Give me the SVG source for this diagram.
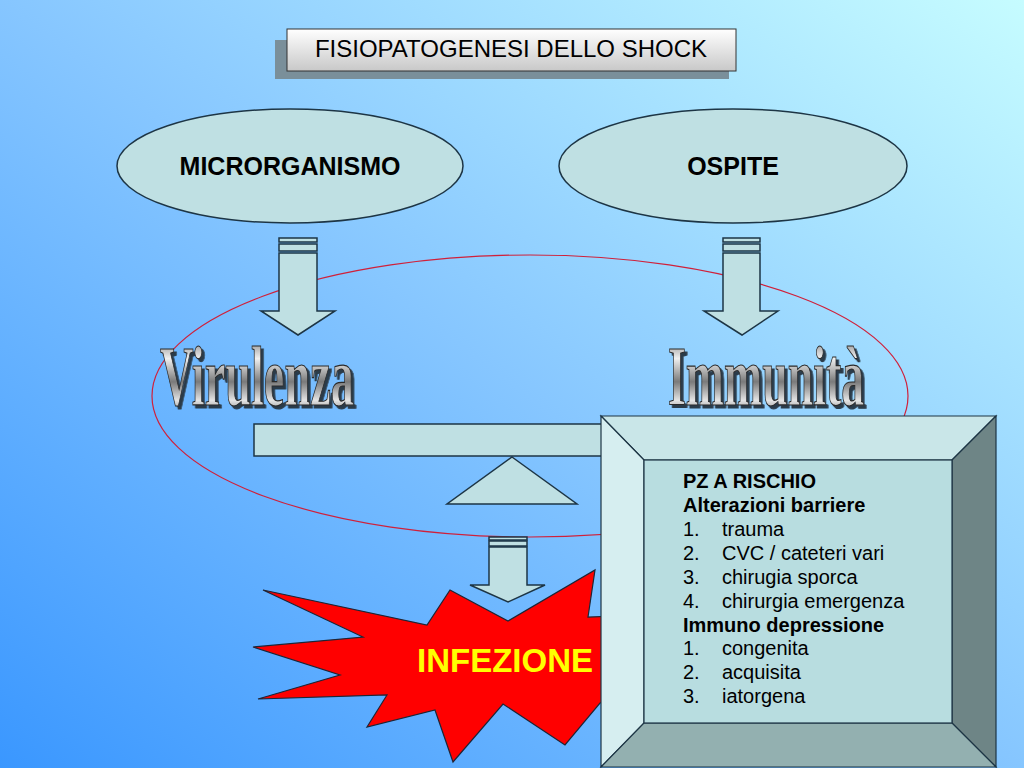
<svg xmlns="http://www.w3.org/2000/svg" width="1024" height="768" viewBox="0 0 1024 768">
<defs>
<linearGradient id="bg" x1="0" y1="1" x2="1" y2="0">
<stop offset="0" stop-color="#3a97ff"/>
<stop offset="0.5" stop-color="#86c6ff"/>
<stop offset="1" stop-color="#c6fcff"/>
</linearGradient>
<linearGradient id="title" x1="0" y1="0" x2="0" y2="1">
<stop offset="0" stop-color="#ffffff"/>
<stop offset="1" stop-color="#c8c8c8"/>
</linearGradient>
<linearGradient id="metal" x1="0" y1="0" x2="0" y2="1">
<stop offset="0" stop-color="#5a5a5a"/>
<stop offset="0.3" stop-color="#f0f0f0"/>
<stop offset="0.55" stop-color="#7a7a7a"/>
<stop offset="0.75" stop-color="#e4e4e4"/>
<stop offset="1" stop-color="#4a4a4a"/>
</linearGradient>
<filter id="extrude" x="-10%" y="-30%" width="130%" height="170%">
<feDropShadow dx="5" dy="3" stdDeviation="0.6" flood-color="#2a3a4a" flood-opacity="1"/>
</filter>
<style>
.shape{fill:#bfe0e3;stroke:#1d3545;stroke-width:1.5}
.lbl{font-family:"Liberation Sans",Arial,sans-serif;font-weight:bold;font-size:25px;fill:#000;text-anchor:middle}
.wa{font-family:"Liberation Serif","Times New Roman",serif;font-weight:bold;font-size:84px;fill:url(#metal);stroke:#2a2a2a;stroke-width:1.2;filter:url(#extrude)}
.bx{font-family:"Liberation Sans",Arial,sans-serif;font-size:20px;fill:#000}
.b{font-weight:bold}
</style>
</defs>
<rect width="1024" height="768" fill="url(#bg)"/>

<g id="title-box">
<rect x="275" y="40" width="454" height="39" fill="#7a8f9a"/>
<rect x="287" y="29" width="449" height="42" fill="url(#title)" stroke="#333" stroke-width="1"/>
<text x="511" y="57" font-family="Liberation Sans, Arial, sans-serif" font-size="24" text-anchor="middle" fill="#000">FISIOPATOGENESI DELLO SHOCK</text>
</g>

<g id="balance-ellipse">
<ellipse cx="530" cy="396" rx="378" ry="141" fill="none" stroke="#d0203a" stroke-width="1.2"/>
</g>

<g id="microrganismo">
<ellipse class="shape" cx="290" cy="166" rx="173" ry="57"/>
<text class="lbl" x="290" y="175">MICRORGANISMO</text>
</g>

<g id="ospite">
<ellipse class="shape" cx="733" cy="166" rx="174" ry="57"/>
<text class="lbl" x="733" y="175">OSPITE</text>
</g>

<g id="connectors">
<g id="arrow-left">
<rect class="shape" x="279" y="238" width="38" height="4"/>
<rect class="shape" x="279" y="244" width="38" height="7"/>
<polygon class="shape" points="279,253 317,253 317,311 335,311 298,335 261,311 279,311"/>
</g>
<g id="arrow-right">
<rect class="shape" x="723" y="238" width="37" height="4"/>
<rect class="shape" x="723" y="244" width="37" height="7"/>
<polygon class="shape" points="723,253 760,253 760,311 778,311 742,335 704,311 723,311"/>
</g>
</g>

<g id="virulenza">
<text class="wa" transform="translate(160,405) scale(0.552,1)" x="0" y="0">Virulenza</text>
</g>

<g id="immunita">
<text class="wa" transform="translate(668,405) scale(0.546,1)" x="0" y="0">Immunità</text>
</g>

<g id="beam">
<rect class="shape" x="254" y="424" width="420" height="32"/>
</g>

<g id="fulcrum">
<polygon class="shape" points="512,457 577,504 447,504"/>
</g>

<g id="arrow-bottom">
<rect class="shape" x="489" y="537" width="38" height="3"/>
<rect class="shape" x="489" y="541" width="38" height="5"/>
<polygon class="shape" points="489,547 527,547 527,585 545,585 508,602 470,585 489,585"/>
</g>

<g id="infezione">
<polygon fill="#ff0000" stroke="#1d2535" stroke-width="1.2" points="263,590 427,625 450,590 508,621 595,570 588,617 640,615 660,690 600,703 565,745 503,704 453,762 435,710 367,727 387,695 258,699 340,675 253,647 363,637"/>
<text x="505" y="672" font-family="Liberation Sans, Arial, sans-serif" font-weight="bold" font-size="33" fill="#ffff00" text-anchor="middle">INFEZIONE</text>
</g>

<g id="pz-rischio">
<rect x="601" y="416" width="395" height="351" fill="#b8dde0"/>
<polygon points="601,416 996,416 952,460 644,460" fill="#c9e6e8" stroke="#1d3545" stroke-width="1.2"/>
<polygon points="601,416 644,460 644,723 601,767" fill="#d6eef0" stroke="#1d3545" stroke-width="1.2"/>
<polygon points="996,416 996,767 952,723 952,460" fill="#6e8586" stroke="#1d3545" stroke-width="1.2"/>
<polygon points="601,767 644,723 952,723 996,767" fill="#93b0b0" stroke="#1d3545" stroke-width="1.2"/>
<rect x="644" y="460" width="308" height="263" fill="#b8dde0" stroke="#1d3545" stroke-width="1.2"/>
<text class="bx b" x="683" y="488">PZ A RISCHIO</text>
<text class="bx b" x="683" y="512">Alterazioni barriere</text>
<text class="bx" x="683" y="536">1.</text><text class="bx" x="722" y="536">trauma</text>
<text class="bx" x="683" y="560">2.</text><text class="bx" x="722" y="560">CVC / cateteri vari</text>
<text class="bx" x="683" y="584">3.</text><text class="bx" x="722" y="584">chirugia sporca</text>
<text class="bx" x="683" y="608">4.</text><text class="bx" x="722" y="608">chirurgia emergenza</text>
<text class="bx b" x="683" y="632">Immuno depressione</text>
<text class="bx" x="683" y="655">1.</text><text class="bx" x="722" y="655">congenita</text>
<text class="bx" x="683" y="679">2.</text><text class="bx" x="722" y="679">acquisita</text>
<text class="bx" x="683" y="703">3.</text><text class="bx" x="722" y="703">iatorgena</text>
</g>
</svg>
